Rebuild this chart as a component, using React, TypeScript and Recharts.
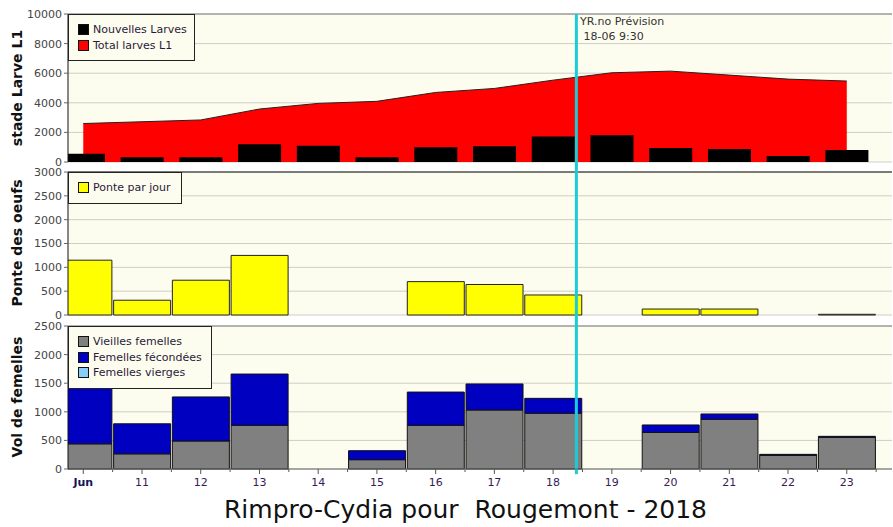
import {
  ComposedChart,
  Bar,
  Area,
  XAxis,
  YAxis,
  CartesianGrid,
  ReferenceLine,
} from 'recharts';

// jours affichés (Jun = 10 juin)
const dayLabels = ['Jun', '11', '12', '13', '14', '15', '16', '17', '18', '19', '20', '21', '22', '23'];

// stade Larve L1
const nouvellesLarves = [550, 320, 320, 1200, 1100, 320, 1000, 1070, 1730, 1800, 950, 880, 400, 810];
const totalLarves = [2600, 2720, 2840, 3580, 3960, 4100, 4700, 4970, 5530, 6030, 6140, 5870, 5600, 5470];

// Ponte des oeufs
const ponteParJour = [1150, 310, 730, 1250, 0, 0, 700, 640, 420, 0, 125, 125, 0, 15];

// Vol de femelles
const vieillesFemelles = [440, 265, 490, 765, 0, 163, 765, 1032, 975, 0, 640, 869, 239, 554];
const femellesFecondees = [1160, 525, 770, 895, 0, 157, 580, 455, 260, 0, 130, 93, 17, 17];
const femellesVierges = [0, 0, 0, 0, 0, 0, 0, 0, 0, 0, 0, 0, 0, 0];

const larveTicks = [0, 2000, 4000, 6000, 8000, 10000];
const ponteTicks = [0, 500, 1000, 1500, 2000, 2500, 3000];
const volTicks = [0, 500, 1000, 1500, 2000, 2500];

// YR.no Prévision : 18-06 9:30
const forecastDay = 8;
const forecastHour = 9.5;

const rows = dayLabels.map((label, i) => ({
  idx: i,
  label,
  nouvelles: nouvellesLarves[i],
  total: totalLarves[i],
  ponte: ponteParJour[i],
  vieilles: vieillesFemelles[i],
  fecondees: femellesFecondees[i],
  vierges: femellesVierges[i],
}));

const forecastX = forecastDay + forecastHour / 24;
const halfDayTicks = dayLabels.flatMap((_, i) => [i, i + 0.5]);

const W = 893;
const X_DOMAIN: [number, number] = [-0.26, 13.77];
const PLOT_BG = '#fdfdef';
const GRID = '#cdcdc8';
const CYAN = '#19cdd6';
const FONT = '"DejaVu Sans", sans-serif';

const yTick = { fontSize: 11, fill: '#454545' };

function DayTick({ x, y, payload }: any) {
  const v = payload.value;
  const isDay = Number.isInteger(v);
  return (
    <g>
      <line x1={x} y1={y} x2={x} y2={y + (isDay ? 5 : 3)} stroke="#555" />
      {isDay && (
        <text
          x={x}
          y={y + 17}
          textAnchor="middle"
          fontSize={11}
          fontWeight={v === 0 ? 'bold' : 'normal'}
          fill={v === 0 ? '#14145a' : '#3a1a55'}
        >
          {dayLabels[v]}
        </text>
      )}
    </g>
  );
}

function LegendBox({
  left,
  top,
  width,
  items,
}: {
  left: number;
  top: number;
  width: number;
  items: { label: string; color: string }[];
}) {
  return (
    <div
      style={{
        position: 'absolute',
        left,
        top,
        width,
        boxSizing: 'border-box',
        border: '1px solid #222',
        background: PLOT_BG,
        padding: '7px 0 7px 9px',
        fontSize: 11,
        color: '#2a1a3a',
      }}
    >
      {items.map((it) => (
        <div key={it.label} style={{ display: 'flex', alignItems: 'center', height: 15.5 }}>
          <span
            style={{
              width: 9,
              height: 9,
              background: it.color,
              border: '1px solid #111',
              marginRight: 4,
              display: 'inline-block',
            }}
          />
          <span>{it.label}</span>
        </div>
      ))}
    </div>
  );
}

function AxisTitle({ text, top }: { text: string; top: number }) {
  return (
    <div
      style={{
        position: 'absolute',
        left: 17,
        top,
        transform: 'translate(-50%, -50%) rotate(-90deg)',
        whiteSpace: 'nowrap',
        fontWeight: 'bold',
        fontSize: 14,
        color: '#111',
      }}
    >
      {text}
    </div>
  );
}

export default function App() {
  return (
    <div
      style={{
        position: 'absolute',
        left: 0,
        top: 0,
        width: W,
        height: 527,
        background: '#fff',
        overflow: 'hidden',
        fontFamily: FONT,
      }}
    >
      {/* stade Larve L1 */}
      <div style={{ position: 'absolute', left: 0, top: 0 }}>
        <ComposedChart width={W} height={167} data={rows} margin={{ top: 14, right: 1, bottom: 5, left: 0 }}>
          <CartesianGrid vertical={false} fill={PLOT_BG} stroke={GRID} />
          <XAxis
            dataKey="idx"
            type="number"
            domain={X_DOMAIN}
            allowDataOverflow
            height={0}
            tick={false}
            tickLine={false}
            axisLine={{ stroke: '#222' }}
          />
          <YAxis
            width={68}
            domain={[0, 10000]}
            ticks={larveTicks}
            interval={0}
            tick={yTick}
            tickSize={4}
            tickMargin={2}
            axisLine={{ stroke: '#111' }}
            tickLine={{ stroke: '#666' }}
          />
          <ReferenceLine y={10000} stroke="#808080" />
          <Area
            type="linear"
            dataKey="total"
            fill="#ff0000"
            fillOpacity={1}
            stroke="#222"
            strokeWidth={1}
            dot={false}
            isAnimationActive={false}
          />
          <Bar dataKey="nouvelles" fill="#000" barSize={43} isAnimationActive={false} />
          <ReferenceLine
            segment={[{ x: forecastX, y: -1000 }, { x: forecastX, y: 10000 }]}
            ifOverflow="visible"
            stroke={CYAN}
            strokeWidth={3}
          />
        </ComposedChart>
      </div>

      {/* Ponte des oeufs */}
      <div style={{ position: 'absolute', left: 0, top: 167 }}>
        <ComposedChart width={W} height={154} data={rows} margin={{ top: 5, right: 1, bottom: 6, left: 0 }}>
          <CartesianGrid vertical={false} fill={PLOT_BG} stroke={GRID} />
          <XAxis
            dataKey="idx"
            type="number"
            domain={X_DOMAIN}
            allowDataOverflow
            height={0}
            tick={false}
            tickLine={false}
            axisLine={{ stroke: '#777' }}
          />
          <YAxis
            width={68}
            domain={[0, 3000]}
            ticks={ponteTicks}
            interval={0}
            tick={yTick}
            tickSize={4}
            tickMargin={2}
            axisLine={{ stroke: '#111' }}
            tickLine={{ stroke: '#666' }}
          />
          <ReferenceLine y={3000} stroke="#111" />
          <Bar dataKey="ponte" fill="#ffff00" stroke="#222" barSize={57} isAnimationActive={false} />
          <ReferenceLine
            segment={[{ x: forecastX, y: -500 }, { x: forecastX, y: 3200 }]}
            ifOverflow="visible"
            stroke={CYAN}
            strokeWidth={3}
          />
        </ComposedChart>
      </div>

      {/* Vol de femelles */}
      <div style={{ position: 'absolute', left: 0, top: 321 }}>
        <ComposedChart width={W} height={206} data={rows} margin={{ top: 5, right: 1, bottom: 28, left: 0 }}>
          <CartesianGrid vertical={false} fill={PLOT_BG} stroke={GRID} />
          <XAxis
            dataKey="idx"
            type="number"
            domain={X_DOMAIN}
            allowDataOverflow
            ticks={halfDayTicks}
            interval={0}
            height={30}
            tickSize={0}
            tickMargin={0}
            tickLine={false}
            tick={<DayTick />}
            axisLine={{ stroke: '#666' }}
          />
          <YAxis
            width={68}
            domain={[0, 2500]}
            ticks={volTicks}
            interval={0}
            tick={yTick}
            tickSize={4}
            tickMargin={2}
            axisLine={{ stroke: '#111' }}
            tickLine={{ stroke: '#666' }}
          />
          <ReferenceLine y={2500} stroke="#808080" />
          <Bar dataKey="vieilles" stackId="vol" fill="#808080" stroke="#111" barSize={57} isAnimationActive={false} />
          <Bar dataKey="fecondees" stackId="vol" fill="#0000c0" stroke="#111" barSize={57} isAnimationActive={false} />
          <Bar dataKey="vierges" stackId="vol" fill="#87cefa" stroke="#111" barSize={57} isAnimationActive={false} />
          <ReferenceLine
            segment={[{ x: forecastX, y: -90 }, { x: forecastX, y: 2600 }]}
            ifOverflow="visible"
            stroke={CYAN}
            strokeWidth={3}
          />
        </ComposedChart>
      </div>

      <LegendBox
        left={68}
        top={14}
        width={127}
        items={[
          { label: 'Nouvelles Larves', color: '#000' },
          { label: 'Total larves L1', color: '#ff0000' },
        ]}
      />
      <LegendBox left={68} top={172} width={114} items={[{ label: 'Ponte par jour', color: '#ffff00' }]} />
      <LegendBox
        left={68}
        top={326}
        width={144}
        items={[
          { label: 'Vieilles femelles', color: '#808080' },
          { label: 'Femelles fécondées', color: '#0000c0' },
          { label: 'Femelles vierges', color: '#87cefa' },
        ]}
      />

      <div
        style={{
          position: 'absolute',
          left: 580,
          top: 14,
          fontSize: 11,
          lineHeight: '15px',
          color: '#333',
          whiteSpace: 'pre',
        }}
      >
        {'YR.no Prévision\n 18-06 9:30'}
      </div>

      <AxisTitle text="stade Larve L1" top={88} />
      <AxisTitle text="Ponte des oeufs" top={243} />
      <AxisTitle text="Vol de femelles" top={397} />

      <div
        style={{
          position: 'absolute',
          left: 38,
          right: 0,
          top: 497,
          textAlign: 'center',
          fontSize: 25,
          lineHeight: '25px',
          color: '#111',
          whiteSpace: 'pre',
        }}
      >
        {'Rimpro-Cydia pour  Rougemont - 2018'}
      </div>
    </div>
  );
}
